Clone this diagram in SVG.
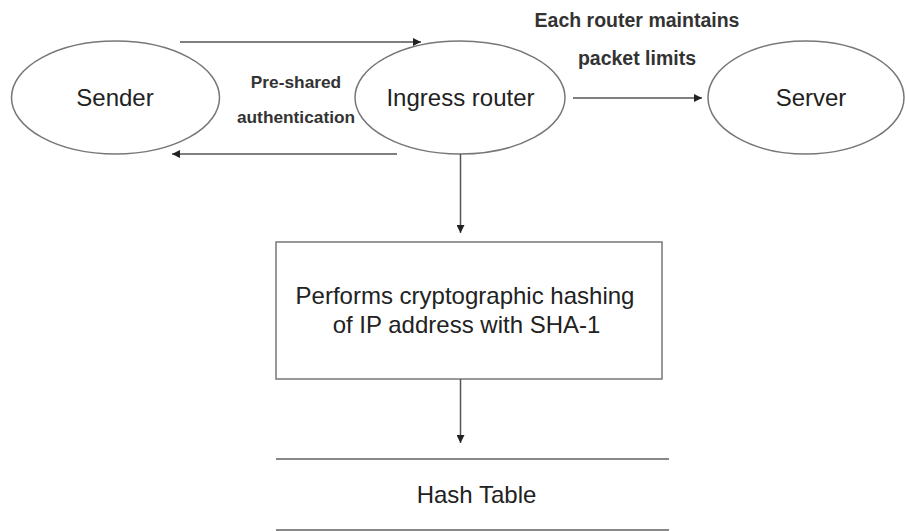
<svg xmlns="http://www.w3.org/2000/svg" width="906" height="531" viewBox="0 0 906 531">
<defs>
<marker id="arr" viewBox="0 0 10 10" refX="10" refY="5" markerWidth="8" markerHeight="8" markerUnits="userSpaceOnUse" orient="auto">
<path d="M0,0 L10,5 L0,10 z" fill="#222"/>
</marker>
<style>
.shape{fill:#fff;stroke:#777;stroke-width:1.5}
.edge{fill:none;stroke:#555;stroke-width:1.5;marker-end:url(#arr)}
.line{stroke:#888;stroke-width:2}
.t{font-family:"Liberation Sans",Arial,sans-serif;font-size:24px;fill:#222;text-anchor:middle}
.lbl{font-family:"Liberation Sans",Arial,sans-serif;font-size:17.3px;font-weight:bold;fill:#333;text-anchor:middle}
</style>
</defs>
<rect width="906" height="531" fill="#fff"/>
<g id="sender"><ellipse class="shape" cx="115.5" cy="97.5" rx="104" ry="56.5"/><text class="t" x="115" y="106">Sender</text></g>
<g id="ingress"><ellipse class="shape" cx="460" cy="97.5" rx="105" ry="56.5"/><text class="t" x="460.5" y="106">Ingress router</text></g>
<g id="server"><ellipse class="shape" cx="806" cy="97.5" rx="98" ry="56.5"/><text class="t" x="811" y="106">Server</text></g>
<g id="hashing"><rect class="shape" x="276" y="242" width="386" height="137"/><text class="t" x="465" y="304">Performs cryptographic hashing</text><text class="t" x="466.5" y="333">of IP address with SHA-1</text></g>
<g id="hashtable"><line class="line" x1="276" y1="459" x2="669" y2="459"/><line class="line" x1="276" y1="530" x2="669" y2="530"/><text class="t" x="476.5" y="503">Hash Table</text></g>
<g id="connectors">
<line class="edge" x1="180" y1="42" x2="421" y2="42"/>
<line class="edge" x1="397" y1="154" x2="172" y2="154"/>
<line class="edge" x1="573" y1="98" x2="702" y2="98"/>
<line class="edge" x1="460.5" y1="154" x2="460.5" y2="233"/>
<line class="edge" x1="460.5" y1="379" x2="460.5" y2="443"/>
</g>
<g id="labels">
<text class="lbl" x="296" y="88">Pre-shared</text>
<text class="lbl" x="296" y="123">authentication</text>
<text class="lbl" x="637" y="27" style="font-size:19.5px">Each router maintains</text>
<text class="lbl" x="637" y="65" style="font-size:19.5px">packet limits</text>
</g>
</svg>
